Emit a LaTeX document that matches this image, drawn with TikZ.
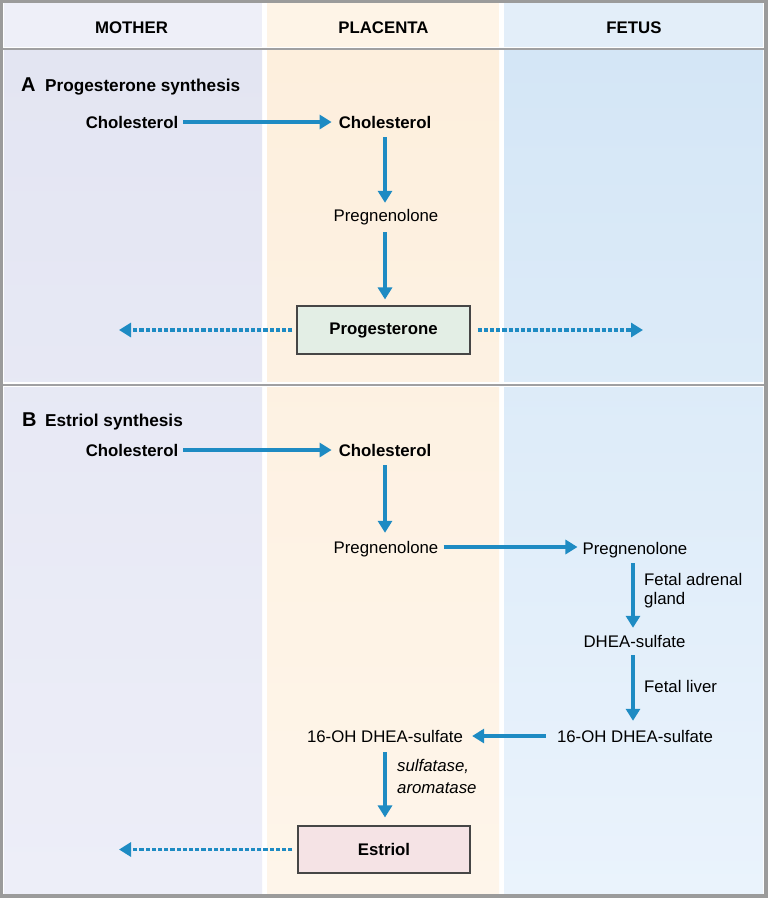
\documentclass[tikz,border=0pt]{standalone}
\usepackage{fontspec}
\setmainfont{Liberation Sans}
\usetikzlibrary{arrows.meta}
\definecolor{arrowblue}{RGB}{30,139,195}
\definecolor{framegray}{RGB}{155,155,155}
\definecolor{sepgray}{RGB}{160,160,162}
\definecolor{mothtop}{RGB}{227,229,242}
\definecolor{mothbot}{RGB}{237,238,248}
\definecolor{plactop}{RGB}{253,239,221}
\definecolor{placbot}{RGB}{254,245,234}
\definecolor{fettop}{RGB}{212,230,246}
\definecolor{fetbot}{RGB}{234,243,252}
\definecolor{mothhead}{RGB}{238,239,248}
\definecolor{plachead}{RGB}{254,244,231}
\definecolor{fethead}{RGB}{227,238,249}
\definecolor{progfill}{RGB}{227,238,229}
\definecolor{estrfill}{RGB}{245,227,229}
\definecolor{boxline}{RGB}{70,70,70}
\begin{document}
\begin{tikzpicture}[x=1pt,y=-1pt,
  txt/.style={font=\fontsize{16.8}{19}\selectfont, inner sep=0pt, text height=12pt, text depth=0pt},
  btxt/.style={txt, font=\fontsize{16.8}{19}\selectfont\bfseries},
  lbl/.style={font=\fontsize{16.8}{19}\selectfont, inner sep=0pt, align=left},
  ilbl/.style={lbl, font=\fontsize{16.8}{22}\selectfont\itshape},
  head/.style={btxt},
  sectitle/.style={font=\fontsize{17.2}{19}\selectfont\bfseries, inner sep=0pt, anchor=base west},
  secletter/.style={font=\fontsize{20}{22}\selectfont\bfseries, inner sep=0pt, anchor=base west},
  hormbox/.style={draw=boxline, line width=1.1pt, minimum width=173pt, minimum height=48pt, inner sep=0pt, font=\fontsize{16.8}{19}\selectfont\bfseries},
  arr/.style={draw=arrowblue, line width=3.3pt, -{Triangle[length=12pt,width=14pt]}},
  darr/.style={arr, line width=3.6pt, dash pattern=on 4.3pt off 1.9pt}
]
\useasboundingbox (0,0) rectangle (768,898);
% frame and backgrounds
\fill[framegray] (0,0) rectangle (768,898);
\fill[white] (3,3) rectangle (764,894);
\fill[mothhead] (4,3) rectangle (262,47);
\fill[plachead] (267,3) rectangle (499,47);
\fill[fethead] (504,3) rectangle (763,47);
\fill[top color=mothtop, bottom color=mothbot] (4,50) rectangle (262,893);
\fill[top color=plactop, bottom color=placbot] (267,50) rectangle (499,893);
\fill[top color=fettop, bottom color=fetbot] (504,50) rectangle (763,893);
\draw[white, line width=5pt] (3,384.5) -- (764,384.5);
\draw[sepgray, line width=2pt] (3,48.5) -- (764,48.5);
\draw[sepgray, line width=2pt] (3,384.5) -- (764,384.5);

% headers
\node[head] (hm) at (131.5,27) {MOTHER};
\node[head] (hp) at (383.5,27) {PLACENTA};
\node[head] (hf) at (634,27) {FETUS};

% section A
\node[secletter] (la) at (21,91) {A};
\node[sectitle] (ta) at (45,91) {Progesterone synthesis};
\node[btxt] (mc1) at (132,122) {Cholesterol};
\node[btxt] (pc1) at (385,122) {Cholesterol};
\node[txt] (pp1) at (386,215) {Pregnenolone};
\node[hormbox, fill=progfill] (prog) at (383.5,330) {Progesterone};
\coordinate (progL) at (119,330);
\coordinate (progR) at (643,330);

\draw[arr, shorten <=5pt, shorten >=7pt] (mc1.east) -- (pc1.west);
\draw[arr, shorten <=9pt, shorten >=6pt] (pc1.south) -- (pc1.south |- pp1.north);
\draw[arr, shorten <=11pt, shorten >=6pt] (pp1.south -| pc1.south) -- (pc1.south |- prog.north);
\draw[darr, shorten <=4pt] (prog.west) -- (progL);
\draw[darr, shorten <=7pt] (prog.east) -- (progR);

% section B
\node[secletter] (lb) at (22,426) {B};
\node[sectitle] (tb) at (45,426) {Estriol synthesis};
\node[btxt] (mc2) at (132,450) {Cholesterol};
\node[btxt] (pc2) at (385,450) {Cholesterol};
\node[txt] (pp2) at (386,547) {Pregnenolone};
\node[txt] (fp) at (635,548) {Pregnenolone};
\node[txt] (fd) at (634.5,641) {DHEA-sulfate};
\node[txt] (f16) at (635,736) {16-OH DHEA-sulfate};
\node[txt] (p16) at (385,736) {16-OH DHEA-sulfate};
\node[hormbox, fill=estrfill, minimum width=172pt, minimum height=47pt] (estr) at (384,849.5) {Estriol};
\coordinate (estrL) at (119,849.5);

\node[lbl, anchor=north west] (ladr) at (644,573.5) {Fetal adrenal\\gland};
\node[lbl, anchor=west, text height=12pt, text depth=0pt] (lliv) at (644,686) {Fetal liver};
\node[ilbl, anchor=north west] (lenz) at (397,759) {sulfatase,\\aromatase};

\draw[arr, shorten <=5pt, shorten >=7pt] (mc2.east) -- (pc2.west);
\draw[arr, shorten <=9pt, shorten >=8pt] (pc2.south) -- (pc2.south |- pp2.north);
\draw[arr, shorten <=5pt, shorten >=5pt] (pp2.east) -- (pp2.east -| fp.west);
\draw[arr, shorten <=9pt, shorten >=7pt] ([xshift=-2pt]fp.south) -- ([xshift=-2pt]fp.south |- fd.north);
\draw[arr, shorten <=8pt, shorten >=9pt] ([xshift=-2pt]fp.south |- fd.south) -- ([xshift=-2pt]fp.south |- f16.north);
\draw[arr, shorten <=11pt, shorten >=9pt] (f16.west) -- (p16.east);
\draw[arr, shorten <=10pt, shorten >=8pt] (p16.south) -- (p16.south |- estr.north);
\draw[darr, shorten <=5pt] (estr.west) -- (estrL);
\end{tikzpicture}
\end{document}
